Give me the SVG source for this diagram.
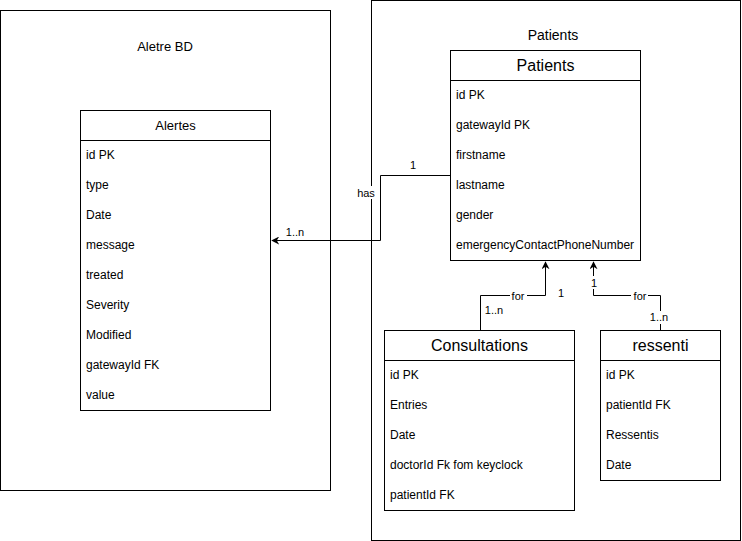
<svg xmlns="http://www.w3.org/2000/svg" width="742" height="541" viewBox="0 0 742 541">
  <style>
    .frame { fill: #ffffff; stroke: #000000; stroke-width: 1; }
    .tbl { fill: #ffffff; stroke: #000000; stroke-width: 1; }
    .t { font-family: "Liberation Sans", Arial, sans-serif; fill: #000000; }
    .row { font-size: 12px; }
    .hdr { font-size: 16px; text-anchor: middle; }
    .ttl { font-size: 13px; text-anchor: middle; }
    .lbl { font-size: 11px; text-anchor: middle; }
    .edge { fill: none; stroke: #000000; stroke-width: 1; }
    .lblbg { fill: #ffffff; }
  </style>
  <defs>
    <marker id="arrow" viewBox="0 0 10 10" refX="9" refY="5" markerWidth="8" markerHeight="8" markerUnits="userSpaceOnUse" orient="auto">
      <path d="M0,0 L10,5 L0,10 L3,5 Z" fill="#000000"/>
    </marker>
  </defs>

  <rect width="742" height="541" fill="#ffffff"/>

  <!-- container: Aletre BD -->
  <g id="container-aletre">
    <rect class="frame" x="0.5" y="10.5" width="330" height="480"/>
    <text class="t ttl" x="165" y="51">Aletre BD</text>
  </g>

  <!-- container: Patients -->
  <g id="container-patients">
    <rect class="frame" x="371.5" y="0.5" width="369" height="540"/>
    <text class="t ttl" x="553" y="40" style="font-size:14px">Patients</text>
  </g>

  <!-- table: Alertes -->
  <g id="alertes">
    <rect class="tbl" x="80.5" y="110.5" width="190" height="300"/>
    <line class="edge" x1="80.5" y1="140.5" x2="270.5" y2="140.5"/>
    <text class="t ttl" x="175.5" y="130">Alertes</text>
    <text class="t row" x="86" y="159">id PK</text>
    <text class="t row" x="86" y="189">type</text>
    <text class="t row" x="86" y="219">Date</text>
    <text class="t row" x="86" y="249">message</text>
    <text class="t row" x="86" y="279">treated</text>
    <text class="t row" x="86" y="309">Severity</text>
    <text class="t row" x="86" y="339">Modified</text>
    <text class="t row" x="86" y="369">gatewayId FK</text>
    <text class="t row" x="86" y="399">value</text>
  </g>

  <!-- table: Patients -->
  <g id="patients">
    <rect class="tbl" x="450.5" y="50.5" width="190" height="210"/>
    <line class="edge" x1="450.5" y1="80.5" x2="640.5" y2="80.5"/>
    <text class="t hdr" x="545.5" y="71">Patients</text>
    <text class="t row" x="456" y="99">id PK</text>
    <text class="t row" x="456" y="129">gatewayId PK</text>
    <text class="t row" x="456" y="159">firstname</text>
    <text class="t row" x="456" y="189">lastname</text>
    <text class="t row" x="456" y="219">gender</text>
    <text class="t row" x="456" y="249">emergencyContactPhoneNumber</text>
  </g>

  <!-- table: Consultations -->
  <g id="consultations">
    <rect class="tbl" x="384.5" y="330.5" width="190" height="180"/>
    <line class="edge" x1="384.5" y1="360.5" x2="574.5" y2="360.5"/>
    <text class="t hdr" x="479.5" y="351">Consultations</text>
    <text class="t row" x="390" y="379">id PK</text>
    <text class="t row" x="390" y="409">Entries</text>
    <text class="t row" x="390" y="439">Date</text>
    <text class="t row" x="390" y="469">doctorId Fk fom keyclock</text>
    <text class="t row" x="390" y="499">patientId FK</text>
  </g>

  <!-- table: ressenti -->
  <g id="ressenti">
    <rect class="tbl" x="600.5" y="330.5" width="120" height="150"/>
    <line class="edge" x1="600.5" y1="360.5" x2="720.5" y2="360.5"/>
    <text class="t hdr" x="660.5" y="351">ressenti</text>
    <text class="t row" x="606" y="379">id PK</text>
    <text class="t row" x="606" y="409">patientId FK</text>
    <text class="t row" x="606" y="439">Ressentis</text>
    <text class="t row" x="606" y="469">Date</text>
  </g>

  <!-- connectors -->
  <g id="connectors">
    <!-- Patients has Alertes -->
    <path class="edge" d="M450.5,175.5 H380.5 V240.5 H272" marker-end="url(#arrow)"/>
    <rect class="lblbg" x="355" y="186" width="22" height="13"/>
    <text class="t lbl" x="366" y="197">has</text>
    <text class="t lbl" x="413" y="169">1</text>
    <text class="t lbl" x="295" y="236">1..n</text>

    <!-- Consultations for Patients -->
    <path class="edge" d="M480.5,330 V295.5 H545.5 V262" marker-end="url(#arrow)"/>
    <rect class="lblbg" x="510" y="289" width="17" height="13"/>
    <text class="t lbl" x="518" y="300">for</text>
    <text class="t lbl" x="561" y="297">1</text>
    <text class="t lbl" x="494" y="314">1..n</text>

    <!-- ressenti for Patients -->
    <path class="edge" d="M660.5,330 V295.5 H593.5 V262" marker-end="url(#arrow)"/>
    <rect class="lblbg" x="631" y="289" width="17" height="13"/>
    <text class="t lbl" x="640" y="300">for</text>
    <rect class="lblbg" x="590" y="276" width="8" height="13"/>
    <text class="t lbl" x="594" y="287">1</text>
    <rect class="lblbg" x="650" y="311" width="19" height="13"/>
    <text class="t lbl" x="659" y="321">1..n</text>
  </g>
</svg>
